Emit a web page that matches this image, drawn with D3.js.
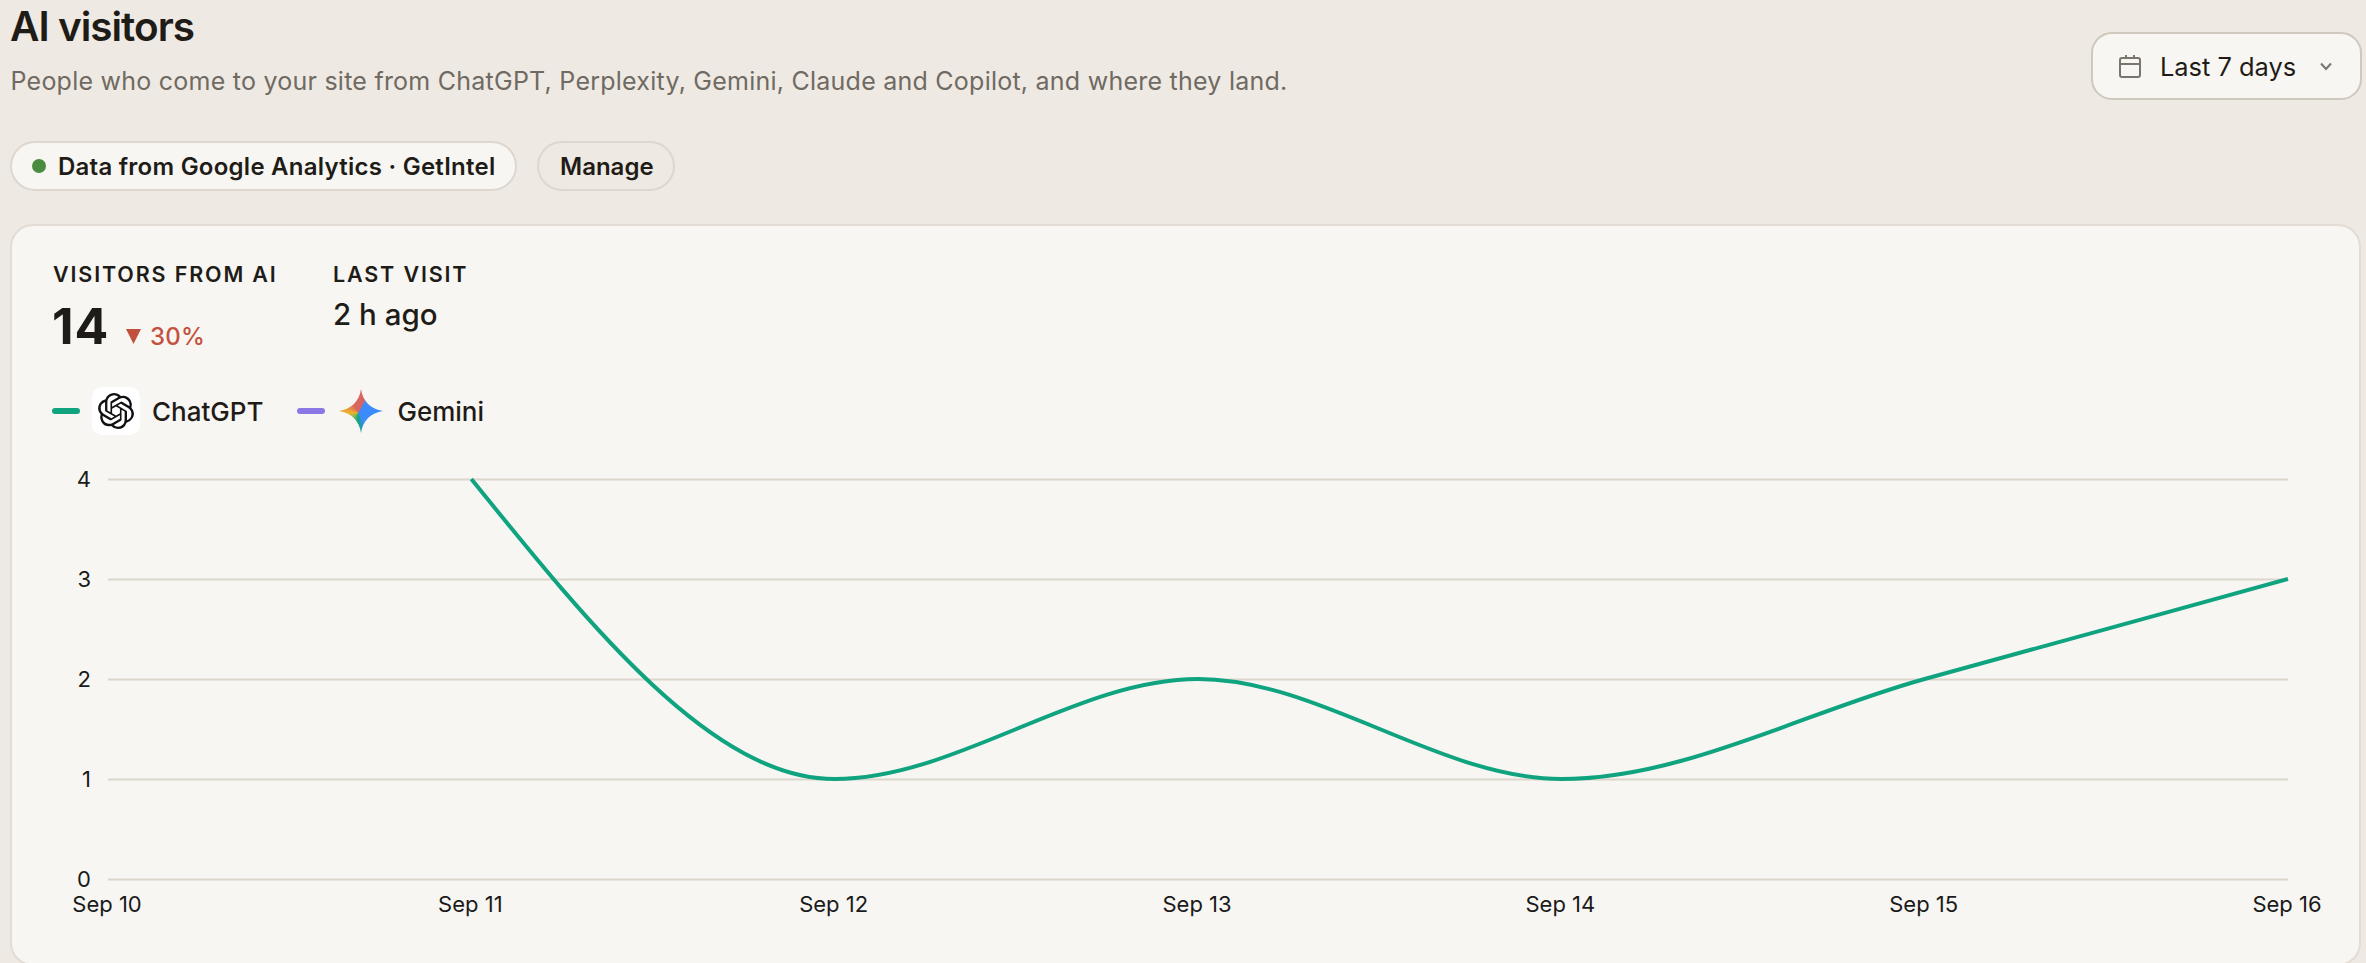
<!DOCTYPE html>
<html>
<head>
<meta charset="utf-8">
<title>AI visitors</title>
<script src="https://cdn.jsdelivr.net/npm/d3@7"></script>
<style>
	html, body { margin: 0; padding: 0; background: #eee9e3; overflow: hidden; }
	svg { display: block; font-family: Inter, "Noto Sans", sans-serif; }
</style>
</head>
<body>
<svg id="chart"></svg>
<script>
const days = ["Sep 10", "Sep 11", "Sep 12", "Sep 13", "Sep 14", "Sep 15", "Sep 16"]
const chatgptVisitors = [null, 4, 1, 2, 1, 2, 3]
const geminiVisitors = [null, null, null, null, null, null, null]
const yTicks = [0, 1, 2, 3, 4]
const seriesNames = ["ChatGPT", "Gemini"]
const seriesColors = ["#10a37f", "#8b78e6"]

const chartWidth = 2366
const chartHeight = 963
const ink = "#1f1c18"

const openaiPath = "M22.2819 9.8211a5.9847 5.9847 0 0 0-.5157-4.9108 6.0462 6.0462 0 0 0-6.5098-2.9A6.0651 6.0651 0 0 0 4.9807 4.1818a5.9847 5.9847 0 0 0-3.9977 2.9 6.0462 6.0462 0 0 0 .7427 7.0966 5.98 5.98 0 0 0 .511 4.9107 6.051 6.051 0 0 0 6.5146 2.9001A5.9847 5.9847 0 0 0 13.2599 24a6.0557 6.0557 0 0 0 5.7718-4.2058 5.9894 5.9894 0 0 0 3.9977-2.9001 6.0557 6.0557 0 0 0-.7475-7.0729zm-9.022 12.6081a4.4755 4.4755 0 0 1-2.8764-1.0408l.1419-.0804 4.7783-2.7582a.7948.7948 0 0 0 .3927-.6813v-6.7369l2.02 1.1686a.071.071 0 0 1 .038.052v5.5826a4.504 4.504 0 0 1-4.4945 4.4944zm-9.6607-4.1254a4.4708 4.4708 0 0 1-.5346-3.0137l.142.0852 4.783 2.7582a.7712.7712 0 0 0 .7806 0l5.8428-3.3685v2.3324a.0804.0804 0 0 1-.0332.0615L9.74 19.9502a4.4992 4.4992 0 0 1-6.1408-1.6464zM2.3408 7.8956a4.485 4.485 0 0 1 2.3655-1.9728V11.6a.7664.7664 0 0 0 .3879.6765l5.8144 3.3543-2.0201 1.1685a.0757.0757 0 0 1-.071 0l-4.8303-2.7865A4.504 4.504 0 0 1 2.3408 7.872zm16.5963 3.8558L13.1038 8.364 15.1192 7.2a.0757.0757 0 0 1 .071 0l4.8303 2.7913a4.4944 4.4944 0 0 1-.6765 8.1042v-5.6772a.79.79 0 0 0-.407-.667zm2.0107-3.0231l-.142-.0852-4.7735-2.7818a.7759.7759 0 0 0-.7854 0L9.409 9.2297V6.8974a.0662.0662 0 0 1 .0284-.0615l4.8303-2.7866a4.4992 4.4992 0 0 1 6.6802 4.66zM8.3065 12.863l-2.02-1.1638a.0804.0804 0 0 1-.038-.0567V6.0742a4.4992 4.4992 0 0 1 7.3757-3.4537l-.142.0805L8.704 5.459a.7948.7948 0 0 0-.3927.6813zm1.0976-2.3654l2.602-1.4998 2.6069 1.4998v2.9994l-2.5974 1.4997-2.6067-1.4997Z"

const svg = d3.select("#chart")
	.attr("width", chartWidth)
	.attr("height", chartHeight)

function addText(x, y, content, size, weight, fill, spacing) {
	return svg.append("text")
		.attr("x", x)
		.attr("y", y)
		.attr("font-size", size)
		.attr("font-weight", weight)
		.attr("letter-spacing", spacing || 0)
		.attr("fill", fill)
		.text(content)
}

function addBox(x, y, width, height, radius, fill, stroke) {
	return svg.append("rect")
		.attr("x", x)
		.attr("y", y)
		.attr("width", width)
		.attr("height", height)
		.attr("rx", radius)
		.attr("fill", fill)
		.attr("stroke", stroke)
		.attr("stroke-width", 2)
}

// Page header
addText(10, 41, "AI visitors", 40.5, 600, ink, -1)
addText(10.5, 90, "People who come to your site from ChatGPT, Perplexity, Gemini, Claude and Copilot, and where they land.", 25, 400, "#6f6a62", 0.24)

addBox(11, 142, 505, 48, 24, "#f8f6f2", "#ddd7cf")
svg.append("circle")
	.attr("cx", 39)
	.attr("cy", 166)
	.attr("r", 7)
	.attr("fill", "#4a8c3f")
addText(58, 175, "Data from Google Analytics · GetIntel", 24, 600, ink, 0.25)

addBox(538, 142, 136, 48, 24, "#eee9e3", "#ddd7cf")
addText(560, 175, "Manage", 24, 600, ink)

// Date range button
addBox(2092, 33, 269, 66, 20, "#f8f6f2", "#cfc8bc")
svg.append("rect")
	.attr("x", 2120)
	.attr("y", 58)
	.attr("width", 20)
	.attr("height", 19)
	.attr("rx", 2)
	.attr("fill", "none")
	.attr("stroke", "#7a756c")
	.attr("stroke-width", 2)
svg.append("path")
	.attr("d", "M2120 64H2140M2126 55V58M2134 55V58")
	.attr("fill", "none")
	.attr("stroke", "#7a756c")
	.attr("stroke-width", 2)
addText(2160, 76, "Last 7 days", 25.4, 400, ink)
svg.append("path")
	.attr("d", "M2321 63.5L2326 69L2331 63.5")
	.attr("fill", "none")
	.attr("stroke", "#7a756c")
	.attr("stroke-width", 2)

// Card
addBox(11, 225, 2349, 740, 22, "#f7f6f2", "#e2dcd4")

// Numbers above the chart
addText(53, 282, "VISITORS FROM AI", 21.5, 600, ink, 1.85)
addText(333, 282, "LAST VISIT", 21.5, 600, ink, 1.85)
addText(52, 344, "14", 50, 700, ink, 1)
svg.append("path")
	.attr("d", "M126 329H141L133.5 344Z")
	.attr("fill", "#c0513d")
addText(150, 345, "30%", 24, 500, "#c5503e", 0.2)
addText(333, 325, "2 h ago", 29.5, 500, ink)

// Legend
const legendX = [52, 297]
const legendLabelX = [152, 397.5]

svg.selectAll(".legend-dash")
	.data(seriesColors)
	.enter().append("rect")
	.attr("class", "legend-dash")
	.attr("x", (d, i) => legendX[i])
	.attr("y", 408)
	.attr("width", 28)
	.attr("height", 6)
	.attr("rx", 3)
	.attr("fill", d => d)

svg.selectAll(".legend-label")
	.data(seriesNames)
	.enter().append("text")
	.attr("class", "legend-label")
	.attr("x", (d, i) => legendLabelX[i])
	.attr("y", 421)
	.attr("font-size", 26)
	.attr("font-weight", 500)
	.attr("fill", ink)
	.text(d => d)

addBox(92, 387, 48, 48, 10, "#ffffff", "none")
svg.append("path")
	.attr("transform", "translate(98,393) scale(1.5)")
	.attr("d", openaiPath)
	.attr("fill", "#111111")

// Gemini star, conic gradient clipped to the four pointed shape
svg.append("foreignObject")
	.attr("x", 339)
	.attr("y", 389)
	.attr("width", 44)
	.attr("height", 44)
	.append("xhtml:div")
	.style("width", "44px")
	.style("height", "44px")
	.style("background", "conic-gradient(from 0deg at 44% 54%, #d9655f 0deg, #d9655f 22deg, #3d8bfb 36deg, #3d8bfb 150deg, #12a37f 180deg, #7cba55 228deg, #f0b429 268deg, #d9655f 330deg, #d9655f 360deg)")
	.style("clip-path", "path('M22 0C23.5 12 32 20.5 44 22C32 23.5 23.5 32 22 44C20.5 32 12 23.5 0 22C12 20.5 20.5 12 22 0Z')")

// Chart
const x = d3.scalePoint()
	.domain(days)
	.range([108, 2288])

const y = d3.scaleLinear()
	.domain([0, 4])
	.range([879, 479])

const xAxis = svg.append("g")
	.attr("transform", "translate(-1.5,879)")
	.call(d3.axisBottom(x).tickSize(0).tickPadding(17))

const yAxis = svg.append("g")
	.attr("transform", "translate(108,0)")
	.call(d3.axisLeft(y).tickValues(yTicks).tickFormat(d3.format("d")).tickSize(-2180).tickPadding(17))

xAxis.select(".domain").remove()
yAxis.select(".domain").remove()

yAxis.selectAll(".tick line")
	.attr("stroke", "#dcd6cd")
	.attr("stroke-width", 2)

svg.selectAll(".tick text")
	.attr("font-family", "Inter, sans-serif")
	.attr("font-size", 22)
	.attr("fill", "#1a1a1a")

const line = d3.line()
	.defined(d => d.value !== null)
	.x(d => x(d.day))
	.y(d => y(d.value))
	.curve(d3.curveMonotoneX)

const series = [chatgptVisitors, geminiVisitors]

svg.selectAll(".series")
	.data(series)
	.enter().append("path")
	.attr("class", "series")
	.attr("d", values => line(values.map((value, i) => ({ day: days[i], value: value }))))
	.attr("fill", "none")
	.attr("stroke", (d, i) => seriesColors[i])
	.attr("stroke-width", 4)
</script>
</body>
</html>
